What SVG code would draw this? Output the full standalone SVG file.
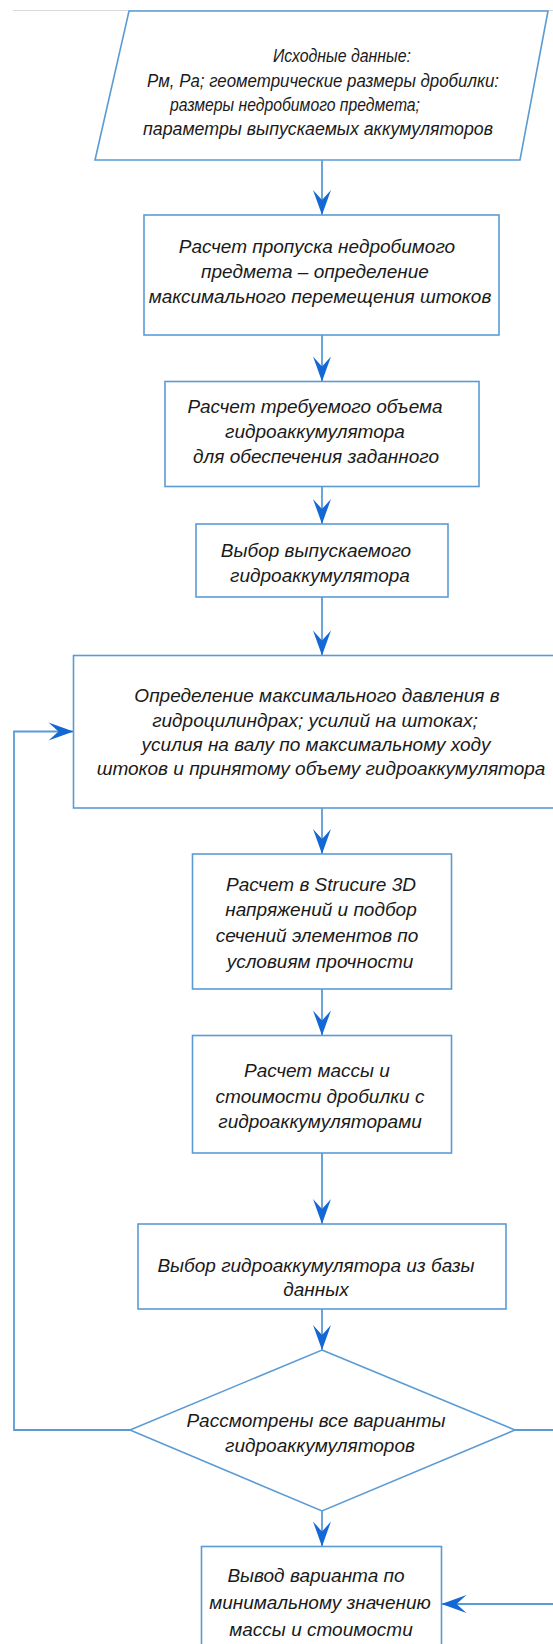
<svg xmlns="http://www.w3.org/2000/svg" width="553" height="1644" viewBox="0 0 553 1644">
<style>
.shape{fill:#ffffff;stroke:#5b9bd5;stroke-width:1.6}
.con{fill:none;stroke:#5b9bd5;stroke-width:1.8}
.t{font-family:"Liberation Sans",Arial,sans-serif;font-style:italic;font-size:19px;fill:#1a1a1a;text-anchor:middle}
.tp{font-size:18px}
</style>
<defs>
<marker id="ah" markerUnits="userSpaceOnUse" markerWidth="30" markerHeight="24" viewBox="-27 -12 28 24" refX="0" refY="0" orient="auto">
<path d="M0,0 L-25,-9 L-15,0 L-25,9 Z" fill="#1468d6"/>
</marker>
</defs>
<rect width="553" height="1644" fill="#ffffff"/>
<line x1="13" y1="10.5" x2="553" y2="10.5" stroke="#d9d9d9" stroke-width="1"/>

<g id="connectors">
<line class="con" x1="322" y1="160" x2="322" y2="215" marker-end="url(#ah)"/>
<line class="con" x1="322" y1="335" x2="322" y2="381.5" marker-end="url(#ah)"/>
<line class="con" x1="322" y1="486.5" x2="322" y2="524" marker-end="url(#ah)"/>
<line class="con" x1="322" y1="597" x2="322" y2="655.5" marker-end="url(#ah)"/>
<line class="con" x1="322" y1="808" x2="322" y2="854" marker-end="url(#ah)"/>
<line class="con" x1="322" y1="989" x2="322" y2="1035.5" marker-end="url(#ah)"/>
<line class="con" x1="322" y1="1153" x2="322" y2="1224" marker-end="url(#ah)"/>
<line class="con" x1="322" y1="1309" x2="322" y2="1350" marker-end="url(#ah)"/>
<line class="con" x1="322" y1="1511" x2="322" y2="1546.5" marker-end="url(#ah)"/>
<polyline class="con" points="130,1430 14,1430 14,731.5 73.5,731.5" marker-end="url(#ah)"/>
<polyline class="con" points="515,1430 562,1430 562,1604 441.5,1604" marker-end="url(#ah)"/>
</g>

<g id="n1">
<polygon class="shape" points="129,11 548,11 520,160 95,160"/>
<text class="t tp" x="342" y="62" textLength="138" lengthAdjust="spacingAndGlyphs">Исходные данные:</text>
<text class="t tp" x="323" y="87" textLength="352" lengthAdjust="spacingAndGlyphs">Pм, Pа; геометрические размеры дробилки:</text>
<text class="t tp" x="295" y="111" textLength="250" lengthAdjust="spacingAndGlyphs">размеры недробимого предмета;</text>
<text class="t tp" x="318" y="135" textLength="350" lengthAdjust="spacingAndGlyphs">параметры выпускаемых аккумуляторов</text>
</g>

<g id="n2">
<rect class="shape" x="144" y="215" width="355" height="120"/>
<text class="t" x="317" y="253">Расчет пропуска недробимого</text>
<text class="t" x="315" y="278">предмета – определение</text>
<text class="t" x="320" y="303">максимального перемещения штоков</text>
</g>

<g id="n3">
<rect class="shape" x="165" y="381.5" width="314" height="105"/>
<text class="t" x="315" y="413">Расчет требуемого объема</text>
<text class="t" x="315" y="438">гидроаккумулятора</text>
<text class="t" x="316" y="463">для обеспечения заданного</text>
</g>

<g id="n4">
<rect class="shape" x="196" y="524" width="252" height="73"/>
<text class="t" x="316" y="557">Выбор выпускаемого</text>
<text class="t" x="320" y="582">гидроаккумулятора</text>
</g>

<g id="n5">
<rect class="shape" x="73.5" y="655.5" width="497" height="152.5"/>
<text class="t" x="317" y="702">Определение максимального давления в</text>
<text class="t" x="315" y="727">гидроцилиндрах; усилий на штоках;</text>
<text class="t" x="316" y="751">усилия на валу по максимальному ходу</text>
<text class="t" x="321" y="775">штоков и принятому объему гидроаккумулятора</text>
</g>

<g id="n6">
<rect class="shape" x="192.5" y="854" width="259" height="135"/>
<text class="t" x="321" y="891">Расчет в Strucure 3D</text>
<text class="t" x="321" y="916">напряжений и подбор</text>
<text class="t" x="317" y="942">сечений элементов по</text>
<text class="t" x="320" y="968">условиям прочности</text>
</g>

<g id="n7">
<rect class="shape" x="192.5" y="1035.5" width="259" height="117.5"/>
<text class="t" x="317" y="1077">Расчет массы и</text>
<text class="t" x="320" y="1103">стоимости дробилки с</text>
<text class="t" x="320" y="1128">гидроаккумуляторами</text>
</g>

<g id="n8">
<rect class="shape" x="138" y="1224" width="368" height="85"/>
<text class="t" x="316" y="1272">Выбор гидроаккумулятора из базы</text>
<text class="t" x="316" y="1296">данных</text>
</g>

<g id="n9">
<polygon class="shape" points="322,1350 515,1430 322,1511 130,1430"/>
<text class="t" x="316" y="1427">Рассмотрены все варианты</text>
<text class="t" x="320" y="1452">гидроаккумуляторов</text>
</g>

<g id="n10">
<rect class="shape" x="201.5" y="1546.5" width="240" height="120"/>
<text class="t" x="316" y="1582">Вывод варианта по</text>
<text class="t" x="320" y="1609">минимальному значению</text>
<text class="t" x="321" y="1636">массы и стоимости</text>
</g>
</svg>
